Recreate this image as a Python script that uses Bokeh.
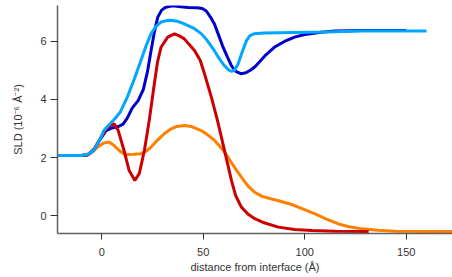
from bokeh.plotting import figure
from bokeh.models import Range1d, FixedTicker
from bokeh.embed import file_html
from bokeh.resources import INLINE

# ---- data ----
navy_x = [-22, -10, -7, -4, -1, 2, 5, 8, 10.5, 12.5, 15, 18, 20.5, 22.5, 24.3, 26, 27.6, 29.5,
          31.5, 35, 39, 42.5, 47, 49.5, 51.5, 53.5, 55.5, 57.3, 59.5, 62, 64, 66, 68.5, 71, 73,
          75.5, 78, 81, 85, 90, 95, 100, 108, 115, 128, 150]
navy_y = [2.07, 2.07, 2.09, 2.25, 2.6, 2.92, 3.02, 3.06, 3.15, 3.35, 3.7, 3.97, 4.35, 4.95, 5.69,
          6.35, 6.84, 7.08, 7.18, 7.23, 7.2, 7.17, 7.16, 7.14, 7.05, 6.85, 6.6, 6.27, 5.85, 5.45,
          5.15, 4.97, 4.89, 4.92, 5.0, 5.13, 5.32, 5.55, 5.8, 6.0, 6.15, 6.24, 6.32, 6.36, 6.38, 6.38]

sky_x = [-22, -10, -7, -4, -1, 1, 3.5, 6, 9, 12.7, 16, 19.3, 22, 24.3, 26.5, 29.2, 32, 34.2, 37,
         40.6, 45, 49, 52, 55.4, 58, 60.4, 62.5, 64, 65.5, 67.2, 69, 71.3, 73, 75.3, 80, 95, 110,
         128, 160]
sky_y = [2.07, 2.07, 2.1, 2.24, 2.6, 2.93, 3.12, 3.3, 3.55, 4.1, 4.7, 5.34, 5.88, 6.27, 6.5, 6.67,
         6.72, 6.73, 6.7, 6.61, 6.47, 6.27, 6.03, 5.69, 5.4, 5.17, 5.02, 4.97, 5.02, 5.23, 5.6,
         6.03, 6.2, 6.27, 6.29, 6.31, 6.33, 6.36, 6.36]

red_x = [-22, -10, -7, -4, -1, 2, 4.5, 6.1, 8, 11, 13.5, 16.3, 18.5, 21, 23.4, 25.9, 27.5, 29.2,
         32.5, 35.8, 38, 40.7, 43, 45.7, 48.5, 50.6, 54, 57, 60.5, 63.9, 66, 68.8, 72, 75.4, 80,
         87, 95, 103.5, 115, 131.5]
red_y = [2.07, 2.07, 2.1, 2.27, 2.62, 2.98, 3.12, 3.16, 2.95, 2.24, 1.55, 1.21, 1.45, 2.24, 3.28,
         4.54, 5.3, 5.8, 6.15, 6.26, 6.2, 6.09, 5.9, 5.69, 5.35, 4.89, 4.08, 3.28, 2.24, 1.21,
         0.68, 0.29, 0.05, -0.11, -0.25, -0.40, -0.48, -0.52, -0.54, -0.55]

orange_x = [-22, -10, -7, -4.5, -2, 1, 3.6, 6, 8.6, 11, 12.7, 16, 19.3, 22, 24.3, 27.5, 30.8, 34,
            37, 40.7, 44, 49, 52, 55.6, 59, 62.2, 65.5, 68.8, 72, 75.4, 79, 83.7, 88, 93.6, 99,
            105.1, 111, 116.7, 122, 128.2, 136, 144.7, 160, 175]
orange_y = [2.07, 2.07, 2.08, 2.2, 2.36, 2.5, 2.53, 2.42, 2.24, 2.12, 2.1, 2.11, 2.13, 2.22, 2.36,
            2.6, 2.82, 2.98, 3.07, 3.1, 3.07, 2.93, 2.79, 2.59, 2.32, 2.01, 1.65, 1.32, 1.02, 0.80,
            0.66, 0.57, 0.49, 0.38, 0.23, 0.06, -0.13, -0.29, -0.39, -0.46, -0.51, -0.54, -0.55,
            -0.55]

x_ticks = [0, 50, 100, 150]
y_ticks = [0, 2, 4, 6]

p = figure(width=444, height=272,
           x_range=Range1d(-21.8, 172.8), y_range=Range1d(-0.62, 7.24),
           output_backend="svg", toolbar_location=None,
           min_border_left=49, min_border_right=0, min_border_top=0, min_border_bottom=44,
           margin=(5, 0, 0, 8))
p.outline_line_color = None
p.xgrid.grid_line_color = None
p.ygrid.grid_line_color = None
p.background_fill_color = "white"
p.border_fill_color = "white"

p.line(orange_x, orange_y, line_color="#FF8000", line_width=3)
p.line(navy_x, navy_y, line_color="#0000CC", line_width=3)
p.line(red_x, red_y, line_color="#CC0000", line_width=3)
p.line(sky_x, sky_y, line_color="#00A6FF", line_width=3)

p.xaxis.ticker = FixedTicker(ticks=x_ticks)
p.yaxis.ticker = FixedTicker(ticks=y_ticks)
p.xaxis.axis_label = "distance from interface (Å)"
p.yaxis.axis_label = "SLD (10⁻⁶ Å⁻²)"

for ax in (p.xaxis, p.yaxis):
    ax.axis_line_color = "#606060"
    ax.axis_line_width = 1.5
    ax.major_tick_line_color = "#303030"
    ax.major_tick_line_width = 1
    ax.major_tick_in = 0
    ax.minor_tick_line_color = None
    ax.major_label_text_font = "Liberation Sans"
    ax.major_label_text_font_size = "11px"
    ax.major_label_text_color = "#333333"
    ax.axis_label_text_font = "Liberation Sans"
    ax.axis_label_text_font_size = "11px"
    ax.axis_label_text_font_style = "normal"
    ax.axis_label_text_color = "#333333"

p.xaxis.major_tick_out = 6
p.xaxis.major_label_standoff = 8
p.xaxis.axis_label_standoff = 2
p.yaxis.major_tick_out = 7
p.yaxis.major_label_standoff = 4
p.yaxis.axis_label_standoff = 13

open("out.html", "w").write(file_html(p, INLINE))
